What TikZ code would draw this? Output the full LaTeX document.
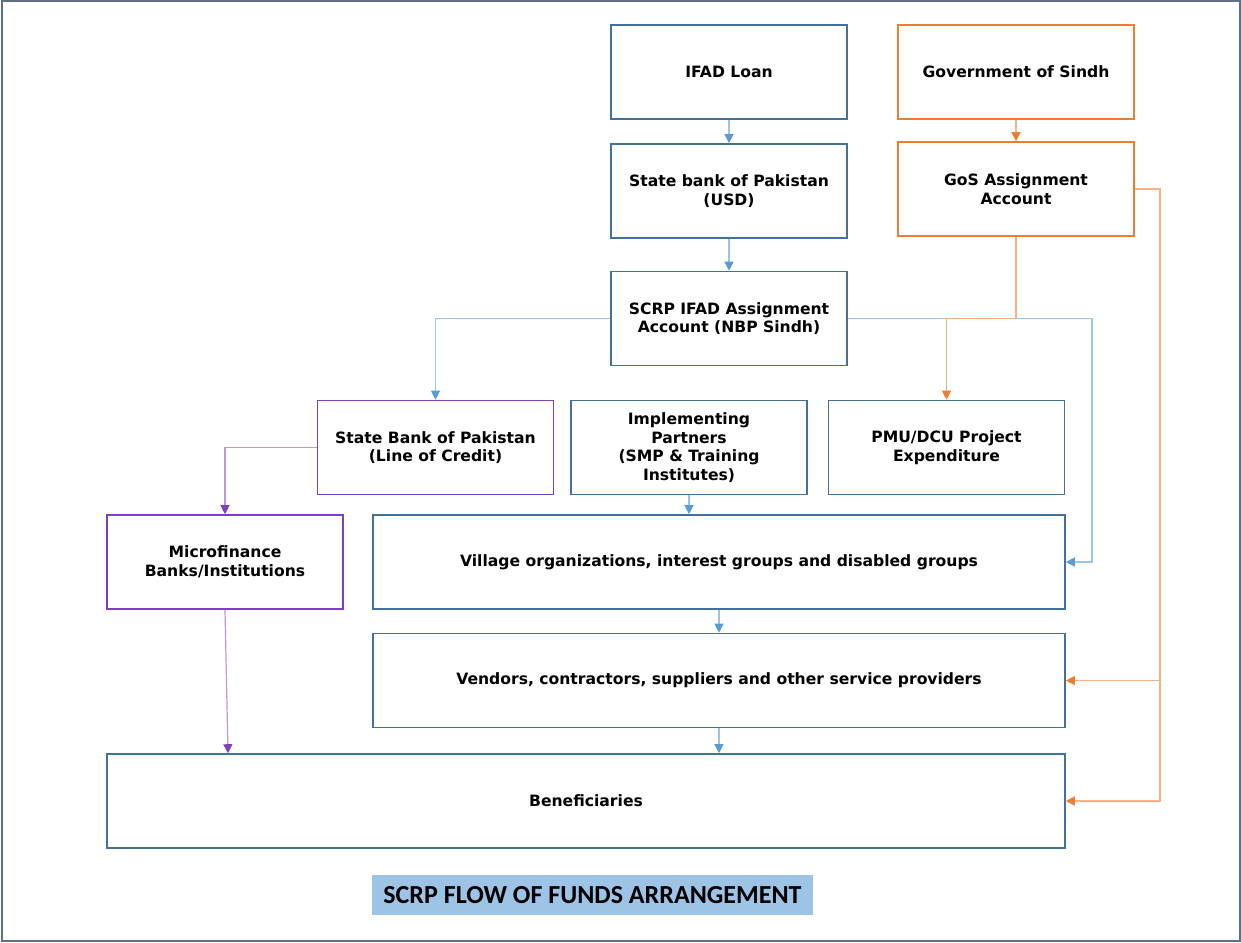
\documentclass[tikz,border=0pt]{standalone}
\usepackage{fontspec}
\setmainfont{DejaVu Sans}
\newfontfamily\titlefont{Carlito}
\usetikzlibrary{arrows.meta}

\definecolor{boxblue}{HTML}{41719C}
\definecolor{boxorange}{HTML}{ED7D31}
\definecolor{boxpurple}{HTML}{7F3FBF}
\definecolor{lineblue}{HTML}{9DC3E6}
\definecolor{tipblue}{HTML}{5B9BD5}
\definecolor{lineorange}{HTML}{F4B183}
\definecolor{lineviolet}{HTML}{B89AE0}
\definecolor{titlefill}{HTML}{9DC3E6}
\definecolor{framegray}{HTML}{5F6F86}

\begin{document}
\begin{tikzpicture}[
    x=0.5pt, y=-0.5pt,
    box/.style={draw=boxblue, line width=0.8pt, align=center, minimum width=118pt, minimum height=47pt,
        inner sep=2pt, font=\fontsize{7.8}{9.4}\selectfont\bfseries},
    orangebox/.style={box, draw=boxorange},
    purplebox/.style={box, draw=boxpurple},
    widebox/.style={box, minimum width=346pt},
    flowblue/.style={draw=lineblue, line width=0.6pt, -{Triangle[length=4.5pt, width=4.5pt, color=tipblue]}},
    floworange/.style={draw=lineorange, line width=0.6pt, -{Triangle[length=4.5pt, width=4.5pt, color=boxorange]}},
    flowpurple/.style={draw=lineviolet, line width=0.6pt, -{Triangle[length=4.5pt, width=4.5pt, color=boxpurple]}}
]
    \useasboundingbox (0,0) rectangle (1241,942);
    \draw[framegray, line width=1pt] (1.5,1) rectangle (1239.5,940.5);

    % sources
    \node[box] (ifad) at (729,72) {IFAD Loan};
    \node[orangebox] (gos) at (1016,72) {Government of Sindh};
    \node[box] (sbpusd) at (729,191) {State bank of Pakistan\\(USD)};
    \node[orangebox] (gosacc) at (1016,189) {GoS Assignment\\Account};
    \node[box] (scrp) at (729,318.5) {SCRP IFAD Assignment\\Account (NBP Sindh)};

    % middle row
    \node[purplebox] (sbploc) at (435.5,447.5) {State Bank of Pakistan\\(Line of Credit)};
    \node[box] (ip) at (689,447.5) {Implementing\\Partners\\(SMP \& Training\\Institutes)};
    \node[box] (pmu) at (946.5,447.5) {PMU/DCU Project\\Expenditure};

    % lower rows
    \node[purplebox] (mfb) at (225,562) {Microfinance\\Banks/Institutions};
    \node[widebox] (vo) at (719,562) {Village organizations, interest groups and disabled groups};
    \node[widebox] (vendors) at (719,680.5) {Vendors, contractors, suppliers and other service providers};
    \node[box, minimum width=479pt] (benef) at (586,801) {Beneficiaries};

    \node[fill=titlefill, minimum width=220.5pt, minimum height=20pt, inner sep=0pt,
        font=\titlefont\fontsize{13}{15}\selectfont\bfseries] (title) at (592.5,895) {SCRP FLOW OF FUNDS ARRANGEMENT};

    % bends
    \coordinate (bluebend) at (1092,318.5);
    \coordinate (orangebend) at (1160,189);

    \draw[flowblue] (ifad) -- (sbpusd);
    \draw[flowblue] (sbpusd) -- (scrp);
    \draw[floworange] (gos) -- (gosacc);
    \draw[flowblue] (scrp.west) -| (sbploc.north);
    \draw[flowblue] (scrp.east) -- (bluebend) |- (vo.east);
    \draw[floworange] (gosacc.south) -- (gosacc.south |- scrp.east) -| (pmu.north);
    \draw[floworange] (gosacc.east) -- (orangebend) |- (benef.east);
    \draw[floworange] (orangebend |- vendors.east) -- (vendors.east);
    \draw[flowpurple] (sbploc.west) -| (mfb.north);
    \draw[flowpurple] (mfb.south) -- ([xshift=1.5pt]mfb.south |- benef.north);
    \draw[flowblue] (ip.south) -- (ip.south |- vo.north);
    \draw[flowblue] (vo) -- (vendors);
    \draw[flowblue] (vendors) -- (vendors.south |- benef.north);
\end{tikzpicture}
\end{document}
